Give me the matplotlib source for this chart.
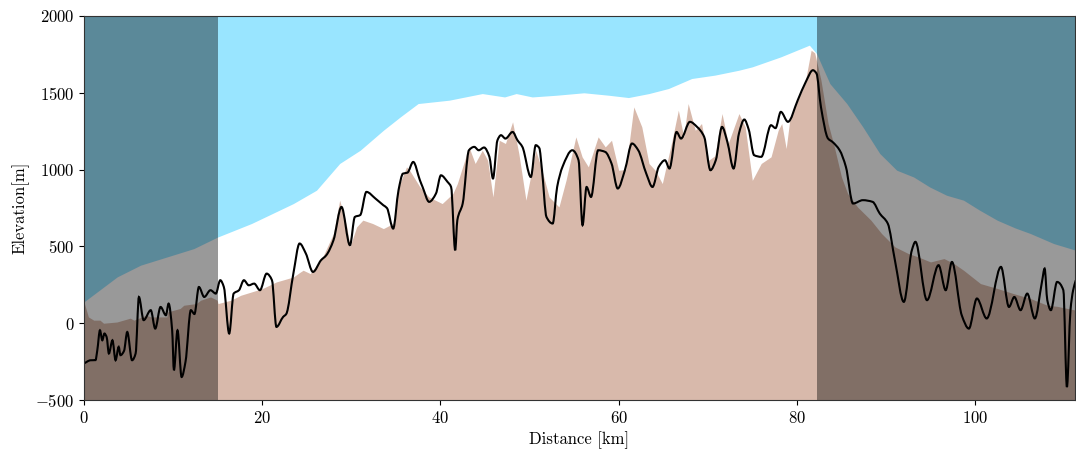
import matplotlib
matplotlib.use("Agg")
import matplotlib.pyplot as plt
from matplotlib.path import Path
from matplotlib.patches import PathPatch
import numpy as np

plt.rcParams["font.family"] = "serif"
plt.rcParams["font.serif"] = ["cmr10", "DejaVu Serif"]
plt.rcParams["mathtext.fontset"] = "cm"
plt.rcParams["axes.formatter.use_mathtext"] = True
plt.rcParams["font.size"] = 12

# Ice surface elevation along the profile
surf_km = [0.0, 3.74, 6.36, 9.35, 12.34, 14.96, 18.8, 23.5, 26.1, 28.7, 31.0,
           33.6, 35.5, 37.5, 41.0, 42.8, 44.7, 47.2, 48.5, 50.3, 53.0, 56.1,
           58.9, 61.1, 63.4, 65.6, 68.2, 70.8, 73.5, 75.0, 78.2, 81.4, 82.2,
           83.7, 85.6, 87.4, 89.3, 91.2, 93.1, 94.9, 96.8, 98.7, 100.5, 102.5,
           104.5, 106.2, 108.8, 111.3]
surf_m = [139, 302, 378, 432, 486, 560, 649, 779, 866, 1040, 1126,
          1256, 1343, 1430, 1452, 1473, 1495, 1473, 1495, 1473, 1484, 1500,
          1484, 1469, 1495, 1528, 1593, 1615, 1647, 1669, 1734, 1810, 1756,
          1560, 1430, 1278, 1105, 996, 952, 887, 833, 801, 736, 670,
          620, 584, 519, 475]

# Bedrock elevation
bed_km = [0.0, 0.5, 1.1, 1.8, 2.2, 3.7, 5.2, 5.6, 7.0, 7.5, 9.3, 9.4, 10.8,
          11.2, 12.6, 13.1, 14.2, 14.6, 14.95, 15.05, 16.5, 17.6, 18.6, 20.0,
          21.6, 23.5, 24.2, 24.6, 25.4, 26.8, 28.0, 28.7, 29.5, 29.85, 30.6,
          31.3, 32.4, 33.6, 34.7, 35.3, 36.2, 36.6, 37.7, 38.7, 40.2, 41.4,
          41.9, 43.2, 43.9, 44.7, 45.3, 45.9, 46.6, 47.3, 48.1, 48.8, 49.6,
          50.7, 51.4, 52.2, 53.3, 54.1, 55.2, 55.9, 56.6, 57.7, 58.5, 59.2,
          60.0, 60.8, 61.7, 62.6, 63.4, 64.1, 64.9, 66.0, 66.7, 67.3, 67.8,
          68.6, 69.3, 70.1, 70.8, 71.6, 72.3, 73.5, 74.2, 75.0, 76.0, 77.1,
          77.9, 78.3, 78.8, 79.2, 80.1, 80.9, 81.6, 82.0, 82.7, 83.5, 84.2,
          85.0, 85.7, 86.8, 88.3, 89.5, 91.0, 92.5, 93.6, 95.0, 96.5, 97.6,
          98.7, 100.6, 102.5, 104.3, 106.2, 108.1, 109.2, 111.3]
bed_m = [139, 41, 20, 20, 0, 8, 33, 20, 52, 41, 41, 74, 96,
         117, 128, 150, 171, 160, 150, 128, 150, 182, 200, 225,
         269, 301, 330, 345, 323, 432, 584, 801, 627, 497, 627,
         671, 649, 616, 649, 887, 1018, 990, 887, 822, 779, 844,
         909, 1148, 1040, 1126, 1061, 822, 1191, 1170, 1311, 1105, 801,
         1126, 996, 822, 757, 931, 1213, 1083, 1018, 1213, 1148, 1191,
         996, 1000, 1408, 1278, 1040, 996, 909, 1191, 1387, 1213, 1430,
         1256, 1300, 1061, 1090, 1365, 1170, 1365, 1278, 930, 1040, 1083,
         1256, 1300, 1137, 1322, 1452, 1560, 1777, 1760, 1582, 1300, 1148,
         952, 844, 757, 671, 584, 497, 454, 432, 399, 421, 389,
         345, 258, 226, 193, 161, 117, 110, 85]

# Smoothed bed profile
line_km = [0.0, 0.75, 1.3, 1.5, 1.8, 2.06, 2.3, 2.55, 2.8, 3.2, 3.55, 3.9,
           4.1, 4.5, 4.86, 5.4, 5.8, 6.17, 6.7, 7.5, 8.0, 8.6, 9.2, 9.5, 9.9,
           10.1, 10.5, 10.96, 11.4, 12.0, 12.4, 12.9, 13.5, 14.2, 14.8, 15.3,
           15.7, 16.3, 16.8, 17.4, 17.95, 18.5, 19.1, 19.75, 20.5, 21.1, 21.6,
           22.35, 22.7, 23.5, 24.2, 24.9, 25.7, 26.6, 27.2, 28.0, 28.9, 29.85,
           30.4, 31.0, 31.7, 32.7, 33.6, 34.0, 34.7, 35.3, 35.8, 36.3, 36.95,
           37.7, 38.0, 38.74, 39.5, 40.06, 40.8, 41.2, 41.66, 41.9, 42.5, 43.2,
           43.8, 44.3, 44.9, 45.5, 45.9, 46.4, 46.8, 47.3, 48.1, 48.65, 49.2,
           50.15, 50.7, 51.1, 51.4, 51.9, 52.6, 53.1, 53.7, 54.8, 55.5, 55.95,
           56.4, 56.9, 57.7, 58.5, 59.2, 59.9, 60.7, 61.5, 62.2, 63.1, 63.8,
           64.5, 65.2, 65.7, 66.5, 67.0, 68.0, 68.8, 69.6, 70.3, 70.9, 71.6,
           72.2, 72.9, 73.5, 74.1, 74.6, 75.2, 76.0, 77.1, 77.6, 78.2, 79.0,
           80.1, 81.0, 81.8, 82.2, 82.7, 83.5, 84.0, 84.8, 85.5, 86.3, 87.4,
           88.5, 89.3, 90.2, 91.0, 92.0, 92.9, 93.3, 94.6, 95.9, 96.7, 97.4,
           98.5, 99.3, 100.2, 101.3, 102.9, 103.8, 104.4, 105.1, 105.85, 106.7,
           107.5, 107.8, 108.1, 108.5, 109.2, 109.9, 110.3, 110.7, 111.0, 111.3]
line_m = [-262, -241, -240, -176, -46, -111, -67, -90, -197, -111, -241, -154,
          -208, -180, -57, -241, -197, 171, 20, 85, -35, 106, 52, 128, -46,
          -306, -46, -350, -250, 85, 60, 236, 171, 215, 193, 280,
          236, -67, 193, 215, 280, 247, 258, 215, 323, 280, -24,
          41, 60, 323, 519, 454, 334, 410, 443, 540, 757, 508,
          692, 704, 855, 812, 768, 750, 616, 866, 974, 980, 1050,
          931, 887, 790, 844, 963, 920, 887, 475, 671, 779, 1126,
          1148, 1126, 1144, 1083, 942, 1191, 1224, 1202, 1245, 1191, 1148,
          952, 1159, 1140, 996, 692, 649, 887, 1018, 1126, 1061, 638,
          887, 822, 1126, 1115, 1040, 877, 996, 1170, 1126, 974, 887,
          1018, 1061, 1007, 1245, 1202, 1311, 1278, 1213, 996, 1061, 1278,
          1180, 1007, 1235, 1326, 1260, 1094, 1083, 1289, 1270, 1376, 1311,
          1452, 1571, 1647, 1626, 1408, 1202, 1180, 1126, 1018, 779, 801,
          790, 714, 649, 410, 139, 475, 530, 150, 378, 215, 399,
          52, -35, 161, 31, 367, 106, 171, 85, 193, 31,
          269, 356, 150, 85, 269, 215, -415, 85, 215, 280]

x_max = 111.2
shade_left = 15.0
shade_right = 82.25


def smooth_path(xs, ys):
    """Bezier path through the points, with monotone (PCHIP-style) tangents."""
    x = np.asarray(xs, float)
    y = np.asarray(ys, float)
    h = np.diff(x)
    d = np.diff(y) / h
    m = np.zeros_like(y)
    for i in range(1, len(y) - 1):
        if d[i - 1] * d[i] > 0:
            w1 = 2 * h[i] + h[i - 1]
            w2 = h[i] + 2 * h[i - 1]
            m[i] = (w1 + w2) / (w1 / d[i - 1] + w2 / d[i])
    m[0], m[-1] = d[0], d[-1]
    verts = [(x[0], y[0])]
    codes = [Path.MOVETO]
    for i in range(len(x) - 1):
        verts += [(x[i] + h[i] / 3, y[i] + m[i] * h[i] / 3),
                  (x[i + 1] - h[i] / 3, y[i + 1] - m[i + 1] * h[i] / 3),
                  (x[i + 1], y[i + 1])]
        codes += [Path.CURVE4] * 3
    return Path(verts, codes)


fig = plt.figure(figsize=(10.76, 4.5), dpi=100)
ax = fig.add_axes([0.078, 0.111, 0.921, 0.8535])
ax.set_facecolor("#99e5ff")

ax.fill_between(surf_km, -500, surf_m, color="white", lw=0)
ax.fill_between(bed_km, -500, bed_m, color="#d8b9ab", lw=0)
ax.add_patch(PathPatch(smooth_path(line_km, line_m), facecolor="none",
                       edgecolor="black", lw=1.5, zorder=3))

ax.axvspan(0, shade_left, color="black", alpha=0.4, lw=0, zorder=4)
ax.axvspan(shade_right, x_max, color="black", alpha=0.4, lw=0, zorder=4)

ax.set_xlim(0, x_max)
ax.set_ylim(-500, 2000)
ax.set_xticks([0, 20, 40, 60, 80, 100])
ax.set_yticks([-500, 0, 500, 1000, 1500, 2000])
ax.set_xlabel("Distance [km]")
ax.set_ylabel("Elevation[m]")
for s in ax.spines.values():
    s.set_color("#333333")
    s.set_zorder(5)

fig.savefig("out.png", dpi=100)
